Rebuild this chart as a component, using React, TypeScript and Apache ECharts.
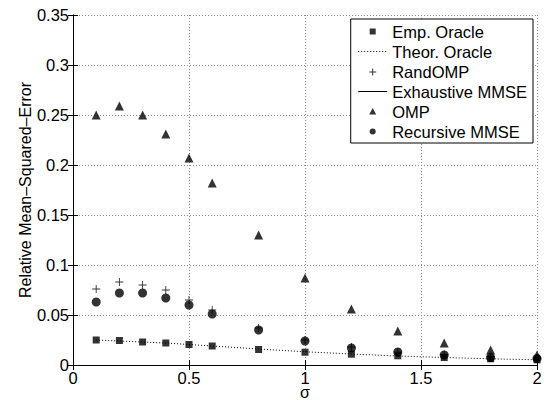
import React, { useEffect, useRef } from "react";
import * as echarts from "echarts";

const sigma = [0.1, 0.2, 0.3, 0.4, 0.5, 0.6, 0.8, 1.0, 1.2, 1.4, 1.6, 1.8, 2.0];
const empOracle = [0.025, 0.0245, 0.023, 0.022, 0.0205, 0.019, 0.0155, 0.0128, 0.0108, 0.0092, 0.0075, 0.0062, 0.0052];
const theorOracle = [0.025, 0.024, 0.023, 0.022, 0.0205, 0.019, 0.016, 0.0132, 0.011, 0.009, 0.0075, 0.0062, 0.0052];
const randOMP = [0.076, 0.083, 0.08, 0.075, 0.065, 0.055, 0.037, 0.025, 0.018, 0.013, 0.0105, 0.0085, 0.007];
const exhaustiveMMSE: number[][] = [];
const omp = [0.25, 0.259, 0.25, 0.231, 0.207, 0.182, 0.13, 0.087, 0.056, 0.034, 0.022, 0.015, 0.01];
const recursiveMMSE = [0.063, 0.072, 0.072, 0.067, 0.06, 0.051, 0.035, 0.024, 0.017, 0.013, 0.01, 0.0075, 0.0065];
const xTicks = { min: 0, max: 2, interval: 0.5 };
const yTicks = { min: 0, max: 0.35, interval: 0.05 };
const legendNames = ["Emp. Oracle", "Theor. Oracle", "RandOMP", "Exhaustive MMSE", "OMP", "Recursive MMSE"];

const pair = (ys: number[]) => sigma.map((s, i) => [s, ys[i]]);
const FONT = "Liberation Sans";
const plusPath = "path://M4,0h1v9h-1zM0,4h9v1h-9z";
// legend icons: frame of 29x10 so that the mark stays small and centred
const legendIcons: Record<string, string | undefined> = {
  "Emp. Oracle": "path://M0,0M29,10M11.5,2h6v6h-6z",
  RandOMP: "path://M0,0M29,10M14,2h1v7h-1zM11,5h7v1h-7z",
  OMP: "path://M0,0M29,10M14.5,1.5L18,8H11z",
  "Recursive MMSE": "path://M0,0M29,10M11.5,5a3,3 0 1,0 6,0a3,3 0 1,0 -6,0z",
};

export default function App() {
  const ref = useRef<HTMLDivElement>(null);
  useEffect(() => {
    const chart = echarts.init(ref.current!, null, { renderer: "svg" });
    const axisCommon = {
      type: "value",
      axisLine: { show: true, lineStyle: { color: "#000", width: 1 } },
      axisTick: { show: true, inside: true, length: 5, lineStyle: { color: "#000" } },
    };
    const labelFmt = (v: number) => String(parseFloat(v.toFixed(2)));
    chart.setOption({
      animation: false,
      backgroundColor: "#fff",
      textStyle: { fontFamily: FONT },
      grid: { left: 73, right: 13, top: 15, bottom: 35, outerBoundsMode: "none", containLabel: false },
      legend: {
        orient: "vertical",
        right: 17,
        top: 19,
        padding: [4, 6, 3, 7],
        itemWidth: 29,
        itemHeight: 10,
        itemGap: 3,
        backgroundColor: "#fff",
        borderColor: "#000",
        borderWidth: 1,
        borderRadius: 0,
        textStyle: { fontFamily: FONT, fontSize: 16.5, color: "#000", lineHeight: 16 },
        data: legendNames.map((n) =>
          legendIcons[n]
            ? { name: n, icon: legendIcons[n] }
            : { name: n, itemStyle: { opacity: 0 }, lineStyle: { width: 1 } }
        ),
      },
      xAxis: [
        {
          ...axisCommon,
          ...xTicks,
          position: "bottom",
          name: "σ",
          nameLocation: "middle",
          nameGap: 20,
          nameMoveOverlap: false,
          nameTextStyle: { fontFamily: FONT, fontSize: 16, color: "#000", lineHeight: 15 },
          axisLabel: { color: "#000", fontSize: 16.5, fontFamily: FONT, margin: 6, lineHeight: 14, formatter: labelFmt },
          splitLine: { show: true, lineStyle: { color: "#888", type: [1, 2], width: 1 } },
        },
        {
          ...axisCommon,
          ...xTicks,
          position: "top",
          axisLabel: { show: false },
          splitLine: { show: false },
        },
      ],
      yAxis: [
        {
          ...axisCommon,
          ...yTicks,
          position: "left",
          name: "Relative Mean\u2013Squared\u2013Error",
          nameLocation: "middle",
          nameGap: 40,
          nameMoveOverlap: false,
          nameTextStyle: { fontFamily: FONT, fontSize: 16, color: "#000" },
          axisLabel: { color: "#000", fontSize: 16.5, fontFamily: FONT, margin: 4, formatter: labelFmt },
          splitLine: { show: true, lineStyle: { color: "#888", type: [1, 2], width: 1 } },
        },
        {
          ...axisCommon,
          ...yTicks,
          position: "right",
          axisLabel: { show: false },
          splitLine: { show: false },
        },
      ],
      series: [
        {
          name: "Theor. Oracle",
          type: "line",
          data: pair(theorOracle),
          showSymbol: false,
          symbol: "none",
          lineStyle: { color: "#000", width: 1, type: [1, 2] },
          itemStyle: { color: "#000" },
          z: 2,
        },
        {
          name: "Exhaustive MMSE",
          type: "line",
          data: exhaustiveMMSE,
          symbol: "none",
          lineStyle: { color: "#000", width: 1, type: "solid" },
          itemStyle: { color: "#000" },
        },
        {
          name: "OMP",
          type: "scatter",
          data: pair(omp),
          symbol: "triangle",
          symbolSize: 9,
          itemStyle: { color: "#000" },
          z: 3,
        },
        {
          name: "RandOMP",
          type: "scatter",
          data: pair(randOMP),
          symbol: plusPath,
          symbolSize: 8,
          itemStyle: { color: "#000" },
          z: 3,
        },
        {
          name: "Recursive MMSE",
          type: "scatter",
          data: pair(recursiveMMSE),
          symbol: "circle",
          symbolSize: 9,
          itemStyle: { color: "#000" },
          z: 4,
        },
        {
          name: "Emp. Oracle",
          type: "scatter",
          data: pair(empOracle),
          symbol: "rect",
          symbolSize: 7,
          itemStyle: { color: "#000" },
          z: 5,
        },
      ],
    });
    return () => chart.dispose();
  }, []);
  return <div ref={ref} style={{ width: 550, height: 400, position: "absolute", left: 0, top: 0 }} />;
}
